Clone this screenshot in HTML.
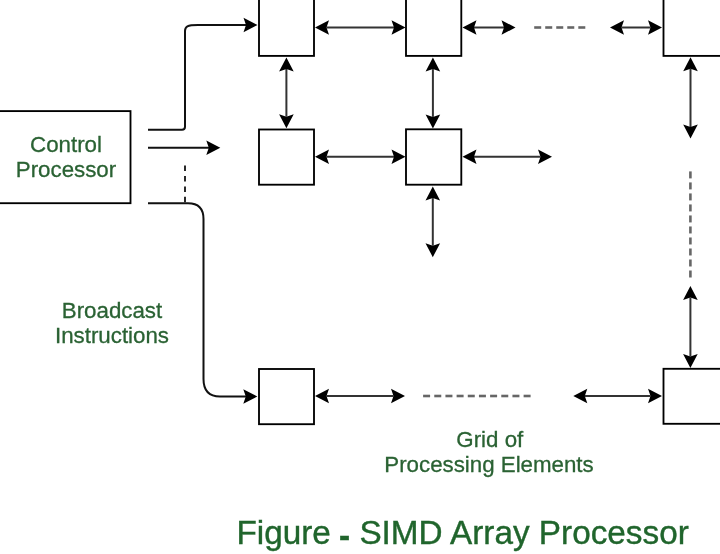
<!DOCTYPE html>
<html><head><meta charset="utf-8"><style>
html,body{margin:0;padding:0;background:#fff;width:720px;height:554px;overflow:hidden}
svg{position:absolute;left:0;top:0;will-change:transform;filter:blur(0.35px)}
.t{position:absolute;font-family:"Liberation Sans",sans-serif;color:#2a6233;white-space:nowrap;line-height:1}
</style></head><body>
<svg width="720" height="554" viewBox="0 0 720 554">
<rect x="-10" y="111.1" width="140.5" height="92.1" fill="#fff" stroke="#000" stroke-width="1.85"/>
<rect x="259" y="-5" width="55" height="60.9" fill="#fff" stroke="#000" stroke-width="1.85"/>
<rect x="406" y="-5" width="55.30000000000001" height="60.9" fill="#fff" stroke="#000" stroke-width="1.85"/>
<rect x="663.5" y="-5" width="66.5" height="60.9" fill="#fff" stroke="#000" stroke-width="1.85"/>
<rect x="259" y="129.5" width="55" height="55.19999999999999" fill="#fff" stroke="#000" stroke-width="1.85"/>
<rect x="406" y="129.3" width="55.30000000000001" height="55.39999999999998" fill="#fff" stroke="#000" stroke-width="1.85"/>
<rect x="259" y="369" width="55" height="55.19999999999999" fill="#fff" stroke="#000" stroke-width="1.85"/>
<rect x="663.5" y="368.8" width="66.5" height="55.0" fill="#fff" stroke="#000" stroke-width="1.85"/>
<line x1="326.5" y1="27.5" x2="394.0" y2="27.5" stroke="#333" stroke-width="2.0"/>
<path d="M315.00,27.50 L329.00,20.20 L326.50,27.50 L329.00,34.80 Z" fill="#000"/>
<path d="M405.50,27.50 L391.50,34.80 L394.00,27.50 L391.50,20.20 Z" fill="#000"/>
<line x1="474.0" y1="27.5" x2="504.0" y2="27.5" stroke="#333" stroke-width="2.0"/>
<path d="M462.50,27.50 L476.50,20.20 L474.00,27.50 L476.50,34.80 Z" fill="#000"/>
<path d="M515.50,27.50 L501.50,34.80 L504.00,27.50 L501.50,20.20 Z" fill="#000"/>
<line x1="534.20" y1="27.5" x2="541.20" y2="27.5" stroke="#666" stroke-width="2.6"/>
<line x1="545.23" y1="27.5" x2="552.23" y2="27.5" stroke="#666" stroke-width="2.6"/>
<line x1="556.25" y1="27.5" x2="563.25" y2="27.5" stroke="#666" stroke-width="2.6"/>
<line x1="567.27" y1="27.5" x2="574.27" y2="27.5" stroke="#666" stroke-width="2.6"/>
<line x1="578.30" y1="27.5" x2="585.30" y2="27.5" stroke="#666" stroke-width="2.6"/>
<line x1="621.5" y1="27.5" x2="650.5" y2="27.5" stroke="#333" stroke-width="2.0"/>
<path d="M610.00,27.50 L624.00,20.20 L621.50,27.50 L624.00,34.80 Z" fill="#000"/>
<path d="M662.00,27.50 L648.00,34.80 L650.50,27.50 L648.00,20.20 Z" fill="#000"/>
<line x1="326.5" y1="156.8" x2="394.0" y2="156.8" stroke="#333" stroke-width="2.0"/>
<path d="M315.00,156.80 L329.00,149.50 L326.50,156.80 L329.00,164.10 Z" fill="#000"/>
<path d="M405.50,156.80 L391.50,164.10 L394.00,156.80 L391.50,149.50 Z" fill="#000"/>
<line x1="474.0" y1="156.8" x2="540.5" y2="156.8" stroke="#333" stroke-width="2.0"/>
<path d="M462.50,156.80 L476.50,149.50 L474.00,156.80 L476.50,164.10 Z" fill="#000"/>
<path d="M552.00,156.80 L538.00,164.10 L540.50,156.80 L538.00,149.50 Z" fill="#000"/>
<line x1="326.5" y1="396" x2="393.5" y2="396" stroke="#333" stroke-width="2.0"/>
<path d="M315.00,396.00 L329.00,388.70 L326.50,396.00 L329.00,403.30 Z" fill="#000"/>
<path d="M405.00,396.00 L391.00,403.30 L393.50,396.00 L391.00,388.70 Z" fill="#000"/>
<line x1="423.10" y1="396" x2="430.10" y2="396" stroke="#666" stroke-width="2.6"/>
<line x1="434.27" y1="396" x2="441.27" y2="396" stroke="#666" stroke-width="2.6"/>
<line x1="445.43" y1="396" x2="452.43" y2="396" stroke="#666" stroke-width="2.6"/>
<line x1="456.60" y1="396" x2="463.60" y2="396" stroke="#666" stroke-width="2.6"/>
<line x1="467.77" y1="396" x2="474.77" y2="396" stroke="#666" stroke-width="2.6"/>
<line x1="478.93" y1="396" x2="485.93" y2="396" stroke="#666" stroke-width="2.6"/>
<line x1="490.10" y1="396" x2="497.10" y2="396" stroke="#666" stroke-width="2.6"/>
<line x1="501.27" y1="396" x2="508.27" y2="396" stroke="#666" stroke-width="2.6"/>
<line x1="512.43" y1="396" x2="519.43" y2="396" stroke="#666" stroke-width="2.6"/>
<line x1="523.60" y1="396" x2="530.60" y2="396" stroke="#666" stroke-width="2.6"/>
<line x1="584.8" y1="396" x2="650.5" y2="396" stroke="#333" stroke-width="2.0"/>
<path d="M573.30,396.00 L587.30,388.70 L584.80,396.00 L587.30,403.30 Z" fill="#000"/>
<path d="M662.00,396.00 L648.00,403.30 L650.50,396.00 L648.00,388.70 Z" fill="#000"/>
<line x1="286.4" y1="69.0" x2="286.4" y2="116.69999999999999" stroke="#333" stroke-width="2.0"/>
<path d="M286.40,57.50 L293.70,71.50 L286.40,69.00 L279.10,71.50 Z" fill="#000"/>
<path d="M286.40,128.20 L279.10,114.20 L286.40,116.70 L293.70,114.20 Z" fill="#000"/>
<line x1="432.9" y1="69.1" x2="432.9" y2="116.9" stroke="#333" stroke-width="2.0"/>
<path d="M432.90,57.60 L440.20,71.60 L432.90,69.10 L425.60,71.60 Z" fill="#000"/>
<path d="M432.90,128.40 L425.60,114.40 L432.90,116.90 L440.20,114.40 Z" fill="#000"/>
<line x1="432.8" y1="198.1" x2="432.8" y2="245.7" stroke="#333" stroke-width="2.0"/>
<path d="M432.80,186.60 L440.10,200.60 L432.80,198.10 L425.50,200.60 Z" fill="#000"/>
<path d="M432.80,257.20 L425.50,243.20 L432.80,245.70 L440.10,243.20 Z" fill="#000"/>
<line x1="690.5" y1="68.7" x2="690.5" y2="127.1" stroke="#333" stroke-width="2.0"/>
<path d="M690.50,57.20 L697.80,71.20 L690.50,68.70 L683.20,71.20 Z" fill="#000"/>
<path d="M690.50,138.60 L683.20,124.60 L690.50,127.10 L697.80,124.60 Z" fill="#000"/>
<line x1="690.4" y1="171.40" x2="690.4" y2="178.40" stroke="#666" stroke-width="2.6"/>
<line x1="690.4" y1="182.41" x2="690.4" y2="189.41" stroke="#666" stroke-width="2.6"/>
<line x1="690.4" y1="193.42" x2="690.4" y2="200.42" stroke="#666" stroke-width="2.6"/>
<line x1="690.4" y1="204.43" x2="690.4" y2="211.43" stroke="#666" stroke-width="2.6"/>
<line x1="690.4" y1="215.44" x2="690.4" y2="222.44" stroke="#666" stroke-width="2.6"/>
<line x1="690.4" y1="226.46" x2="690.4" y2="233.46" stroke="#666" stroke-width="2.6"/>
<line x1="690.4" y1="237.47" x2="690.4" y2="244.47" stroke="#666" stroke-width="2.6"/>
<line x1="690.4" y1="248.48" x2="690.4" y2="255.48" stroke="#666" stroke-width="2.6"/>
<line x1="690.4" y1="259.49" x2="690.4" y2="266.49" stroke="#666" stroke-width="2.6"/>
<line x1="690.4" y1="270.50" x2="690.4" y2="277.50" stroke="#666" stroke-width="2.6"/>
<line x1="690.4" y1="297.5" x2="690.4" y2="356.5" stroke="#333" stroke-width="2.0"/>
<path d="M690.40,286.00 L697.70,300.00 L690.40,297.50 L683.10,300.00 Z" fill="#000"/>
<path d="M690.40,368.00 L683.10,354.00 L690.40,356.50 L697.70,354.00 Z" fill="#000"/>
<path d="M148,129.8 L182,129.8 Q185,129.8 185,126.8 L185,31 C185,26.5 187,25 198,25 L246,25" fill="none" stroke="#111" stroke-width="2"/>
<path d="M257.50,25.00 L243.50,32.30 L246.00,25.00 L243.50,17.70 Z" fill="#000"/>
<line x1="148" y1="147.8" x2="209" y2="147.8" stroke="#111" stroke-width="2.0"/>
<path d="M220.30,147.80 L206.30,155.10 L208.80,147.80 L206.30,140.50 Z" fill="#000"/>
<line x1="185" y1="165.60" x2="185" y2="171.10" stroke="#111" stroke-width="1.8"/>
<line x1="185" y1="176.00" x2="185" y2="181.50" stroke="#111" stroke-width="1.8"/>
<line x1="185" y1="186.40" x2="185" y2="191.90" stroke="#111" stroke-width="1.8"/>
<line x1="185" y1="196.80" x2="185" y2="202.30" stroke="#111" stroke-width="1.8"/>
<path d="M148,203.2 L188,203.2 Q203.5,203.2 203.5,219 L203.5,379 Q203.5,396.5 220,396.5 L246,396.5" fill="none" stroke="#111" stroke-width="2"/>
<path d="M257.30,396.50 L243.30,403.80 L245.80,396.50 L243.30,389.20 Z" fill="#000"/>
<g font-family="Liberation Sans, sans-serif" fill="#2a6233" text-anchor="middle" font-size="22.3" stroke="#2a6233" stroke-width="0.3">
<text x="66" y="151.6">Control</text>
<text x="66" y="177">Processor</text>
<text x="112" y="318">Broadcast</text>
<text x="112" y="343.1">Instructions</text>
<text x="489.8" y="447">Grid of</text>
<text x="489" y="472.3">Processing Elements</text>
</g>
<text x="462.6" y="544" font-family="Liberation Sans, sans-serif" fill="#20652c" text-anchor="middle" font-size="33.3" stroke="#20652c" stroke-width="0.4">Figure <tspan dx="-1" dy="2.5" font-weight="bold">-</tspan><tspan dy="-2.5"> SIMD Array Processor</tspan></text>
</svg>
</body></html>
